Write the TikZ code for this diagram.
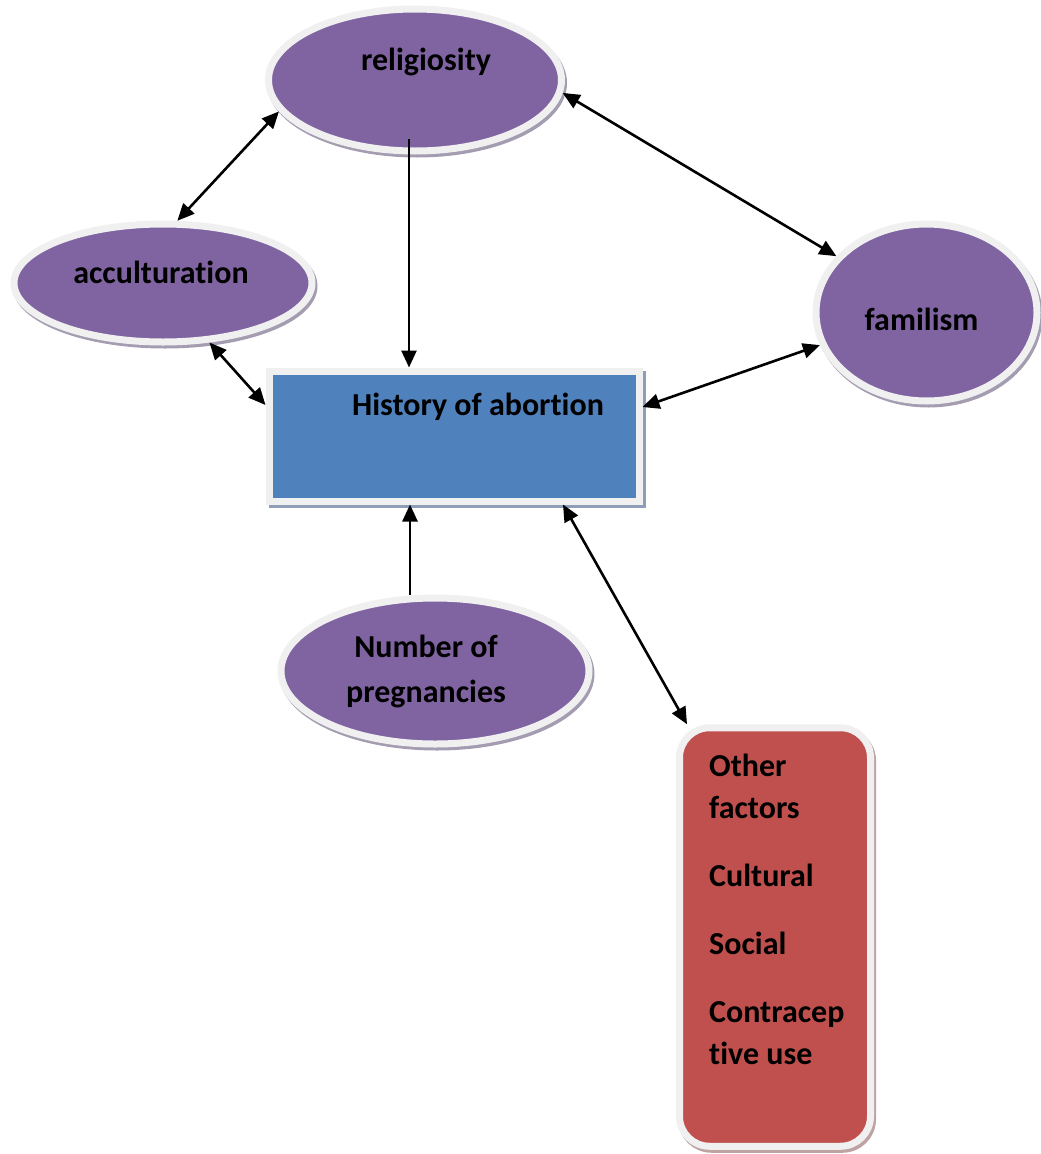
\documentclass[tikz,border=0pt]{standalone}
\usepackage{fontspec}
\setmainfont{Carlito}[Ligatures=NoCommon]
\usetikzlibrary{arrows.meta}
\usetikzlibrary{positioning}
\usetikzlibrary{shapes.geometric}
\usetikzlibrary{shadows}
\definecolor{ovalpurple}{HTML}{8064A2}
\definecolor{boxblue}{HTML}{4F81BD}
\definecolor{boxred}{HTML}{C0504D}
\definecolor{rimgrey}{HTML}{F0F0F0}
\definecolor{ovalshadow}{HTML}{A49CB0}
\definecolor{blueshadow}{HTML}{8E9DB8}
\definecolor{redshadow}{HTML}{BFA3A3}
\tikzset{
	>={Triangle[length=17pt,width=15pt]},
	rim/.style={draw=rimgrey, line width=7pt, inner sep=0pt},
	factor/.style={
		ellipse,
		rim,
		fill=ovalpurple,
		general shadow={shadow xshift=2pt, shadow yshift=-3pt,
			draw=ovalshadow, fill=ovalshadow, line width=7pt}},
	outcome/.style={
		rectangle,
		rim,
		fill=boxblue,
		general shadow={shadow xshift=3pt, shadow yshift=-3pt,
			draw=blueshadow, fill=blueshadow, line width=7pt}},
	others/.style={
		rectangle,
		rounded corners=30pt,
		rim,
		fill=boxred,
		general shadow={shadow xshift=2pt, shadow yshift=-3pt,
			draw=redshadow, fill=redshadow, line width=7pt}},
	lbl/.style={font=\bfseries\fontsize{32}{42}\selectfont, inner sep=0pt},
	line/.style={draw, line width=2.6pt, <->},
}
\begin{document}
\begin{tikzpicture}
	[x=1pt, y=-1pt]
	
	\useasboundingbox (0,0) rectangle (1041,1154);
	
	\node[factor, minimum width=293pt, minimum height=142pt,
		label={[lbl, xshift=11pt, yshift=18pt]center:religiosity}] (relig) at (415,80) {};
	\node[factor, minimum width=298pt, minimum height=118pt,
		label={[lbl, xshift=-2pt, yshift=11pt]center:acculturation}] (accult) at (163,283) {};
	\node[factor, minimum width=221pt, minimum height=177pt,
		label={[lbl, xshift=-5pt, yshift=-7pt]center:familism}] (famil) at (926.5,312.5) {};
	\node[outcome, minimum width=370pt, minimum height=130pt,
		label={[lbl, xshift=24pt, yshift=29pt]center:History of abortion}] (hist) at (454,436) {};
	\node[factor, minimum width=308pt, minimum height=146pt,
		label={[lbl, font=\bfseries\fontsize{32}{45}\selectfont, align=center, xshift=-9pt, yshift=0pt]center:Number of\\pregnancies}] (preg) at (435,671) {};
	\node[others, minimum width=191pt, minimum height=418.5pt,
		label={[lbl, align=left, anchor=north west, xshift=33pt, yshift=-30pt]north west:Other\\factors\\[26pt]Cultural\\[26pt]Social\\[26pt]Contracep\\tive use}] (other) at (775,937) {};
	
	% connections
	\draw[line] (relig.193) -- (accult.77);
	\draw[line, ->] ([xshift=-6pt,yshift=16pt]relig.south) -- ([xshift=-45pt]hist.north);
	\draw[line] (relig.-5) -- (famil.148);
	\draw[line] (accult.-52) -- ([yshift=31pt]hist.west);
	\draw[line] (famil.197) -- ([yshift=29pt]hist.east);
	\draw[line, ->] ([xshift=-25pt]preg.north) -- ([xshift=-44pt]hist.south);
	\draw[line] ([xshift=109pt]hist.south) -- ([xshift=-88pt]other.north);
	
\end{tikzpicture}
\end{document}
